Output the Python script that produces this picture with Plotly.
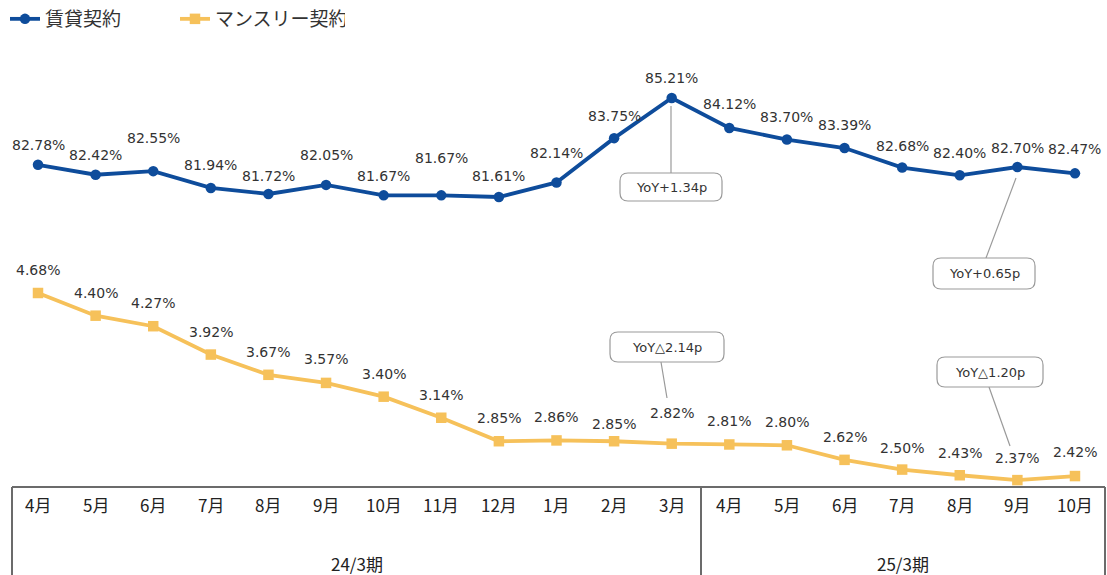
import plotly.graph_objects as go

# ---------------- data ----------------
months = ["4月", "5月", "6月", "7月", "8月", "9月", "10月", "11月", "12月", "1月", "2月", "3月",
          "4月", "5月", "6月", "7月", "8月", "9月", "10月"]
periods = ["24/3期", "25/3期"]
rental = [82.78, 82.42, 82.55, 81.94, 81.72, 82.05, 81.67, 81.67, 81.61, 82.14, 83.75, 85.21,
          84.12, 83.70, 83.39, 82.68, 82.40, 82.70, 82.47]
monthly = [4.68, 4.40, 4.27, 3.92, 3.67, 3.57, 3.40, 3.14, 2.85, 2.86, 2.85, 2.82,
           2.81, 2.80, 2.62, 2.50, 2.43, 2.37, 2.42]
callout_texts = ["YoY+1.34p", "YoY+0.65p", "YoY△2.14p", "YoY△1.20p"]

# label vertical offsets (px above point)
rental_shift = [20, 20, 33, 23, 18, 30, 19, 37, 21, 29, 22, 20, 24, 23, 23, 22, 22, 19, 24]
monthly_shift = [23, 23, 23, 23, 23, 24, 23, 23, 23, 23, 17, 31, 23, 23, 23, 22, 22, 22, 24]

W, H = 1107, 575
BLUE = "#0E4C9B"
ORANGE = "#F6C15A"
FONT = "DejaVu Sans, Noto Sans CJK JP, sans-serif"
JFONT = "Noto Sans CJK JP, DejaVu Sans, sans-serif"

xs = list(range(len(months)))


def px(x):
    return x / W


def py(y):
    return 1 - y / H


fig = go.Figure()
fig.add_trace(go.Scatter(
    x=xs, y=rental, name="賃貸契約", mode="lines+markers",
    line=dict(color=BLUE, width=3.8), marker=dict(symbol="circle", size=10.5, color=BLUE),
    yaxis="y", hoverinfo="skip"))
fig.add_trace(go.Scatter(
    x=xs, y=monthly, name="マンスリー契約", mode="lines+markers",
    line=dict(color=ORANGE, width=3.8), marker=dict(symbol="square", size=10.5, color=ORANGE),
    yaxis="y2", hoverinfo="skip"))

annotations = []
for i, v in enumerate(rental):
    annotations.append(dict(x=i, y=v, xref="x", yref="y", text=f"{v:.2f}%", showarrow=False,
                            xanchor="center", yanchor="middle",
                            yshift=rental_shift[i], font=dict(family=FONT, size=14, color="#333333")))
for i, v in enumerate(monthly):
    annotations.append(dict(x=i, y=v, xref="x", yref="y2", text=f"{v:.2f}%", showarrow=False,
                            xanchor="center", yanchor="middle",
                            yshift=monthly_shift[i], font=dict(family=FONT, size=14, color="#333333")))

# month labels in table
for i, m in enumerate(months):
    annotations.append(dict(x=i, y=py(504), xref="x", yref="paper", text=m, showarrow=False,
                            xanchor="center", yanchor="middle",
                            font=dict(family=JFONT, size=17, color="#222222")))
annotations.append(dict(x=px(357), y=py(563), xref="paper", yref="paper", text=periods[0],
                        xanchor="center", yanchor="middle",
                        showarrow=False, font=dict(family=JFONT, size=17, color="#222222")))
annotations.append(dict(x=px(903), y=py(563), xref="paper", yref="paper", text=periods[1],
                        xanchor="center", yanchor="middle",
                        showarrow=False, font=dict(family=JFONT, size=17, color="#222222")))

shapes = []
# table
TC = "#6B6B6B"
shapes.append(dict(type="line", xref="paper", yref="paper", x0=px(12), x1=px(1105), y0=py(487), y1=py(487),
                   line=dict(color=TC, width=2)))
shapes.append(dict(type="line", xref="paper", yref="paper", x0=px(12), x1=px(12), y0=py(487), y1=py(580),
                   line=dict(color=TC, width=2)))
shapes.append(dict(type="line", xref="paper", yref="paper", x0=px(1105), x1=px(1105), y0=py(487), y1=py(580),
                   line=dict(color=TC, width=2)))
shapes.append(dict(type="line", xref="paper", yref="paper", x0=px(701), x1=px(701), y0=py(487), y1=py(580),
                   line=dict(color=TC, width=2)))


def rounded_rect(x0, y0, x1, y1, r=8):
    pts = [
        f"M {px(x0 + r)},{py(y0)}",
        f"L {px(x1 - r)},{py(y0)}",
        f"Q {px(x1)},{py(y0)} {px(x1)},{py(y0 + r)}",
        f"L {px(x1)},{py(y1 - r)}",
        f"Q {px(x1)},{py(y1)} {px(x1 - r)},{py(y1)}",
        f"L {px(x0 + r)},{py(y1)}",
        f"Q {px(x0)},{py(y1)} {px(x0)},{py(y1 - r)}",
        f"L {px(x0)},{py(y0 + r)}",
        f"Q {px(x0)},{py(y0)} {px(x0 + r)},{py(y0)}",
        "Z",
    ]
    return " ".join(pts)


callouts = [
    # box (x0,y0,x1,y1), line (xa,ya,xb,yb)
    ((620, 173, 722, 201), (671, 106, 671, 173)),
    ((933, 258, 1035, 289), (1016, 178, 986, 258)),
    ((610, 332, 724, 362), (661, 362, 667, 398)),
    ((937, 357, 1043, 387), (989, 387, 1010, 446)),
]
GC = "#9A9A9A"
for (box, ln), txt in zip(callouts, callout_texts):
    shapes.append(dict(type="line", xref="paper", yref="paper", x0=px(ln[0]), y0=py(ln[1]),
                       x1=px(ln[2]), y1=py(ln[3]), line=dict(color=GC, width=1.2), layer="above"))
    shapes.append(dict(type="path", xref="paper", yref="paper", path=rounded_rect(*box),
                       line=dict(color=GC, width=1.2), fillcolor="white", layer="above"))
    annotations.append(dict(x=px((box[0] + box[2]) / 2), y=py((box[1] + box[3]) / 2),
                            xref="paper", yref="paper", text=txt, showarrow=False,
                            xanchor="center", yanchor="middle",
                            font=dict(family=FONT, size=13, color="#333333")))

# axis ranges computed so layout spans the full canvas
x0r = -38 / 57.61
x1r = x0r + W / 57.61
y_top = 85.21 + 98 / 27.5
y_bot = y_top - H / 27.5
y2_top = 4.68 + 293 / 81.0
y2_bot = y2_top - H / 81.0

fig.update_layout(
    width=W, height=H,
    margin=dict(l=0, r=0, t=0, b=0),
    paper_bgcolor="white", plot_bgcolor="white",
    xaxis=dict(range=[x0r, x1r], visible=False, fixedrange=True),
    yaxis=dict(range=[y_bot, y_top], visible=False, fixedrange=True),
    yaxis2=dict(range=[y2_bot, y2_top], visible=False, overlaying="y", fixedrange=True),
    showlegend=True,
    legend=dict(orientation="h", x=px(5), y=1, xanchor="left", yanchor="top",
                font=dict(family=JFONT, size=19, color="#333333"),
                entrywidth=125, entrywidthmode="pixels", bgcolor="rgba(0,0,0,0)",
                itemwidth=30),
    annotations=annotations,
    shapes=shapes,
)

fig.write_html("out.html", config={"displayModeBar": False},
               post_script="document.body.style.margin='0px';")
